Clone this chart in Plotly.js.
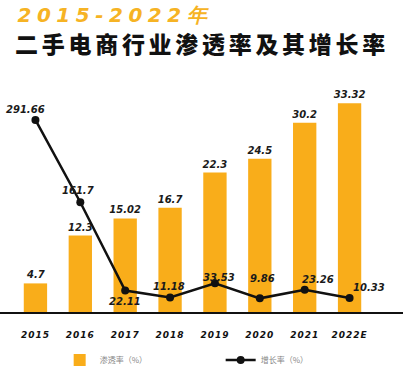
<!DOCTYPE html>
<html>
<head>
<meta charset="utf-8">
<script src="https://cdn.plot.ly/plotly-3.0.1.min.js"></script>
<style>
  html, body { margin: 0; padding: 0; background: #fff; }
  #chart { width: 403px; height: 368px; }
  .annotation[data-index="0"] text { letter-spacing: 5.5px; }
  .annotation[data-index="1"] text { letter-spacing: 3.7px; }
  .xtick text { letter-spacing: 1px; }
</style>
</head>
<body>
<div id="chart"></div>
<script>
// ---- data ----
const years = ['2015', '2016', '2017', '2018', '2019', '2020', '2021', '2022E'];
const penetration = [4.7, 12.3, 15.02, 16.7, 22.3, 24.5, 30.2, 33.32];
const growth = [291.66, 161.7, 22.11, 11.18, 33.53, 9.86, 23.26, 10.33];
const titleTop = '2015-2022年';
const titleMain = '二手电商行业渗透率及其增长率';
const seriesNames = ['渗透率（%）', '增长率（%）'];

// ---- style ----
const ORANGE = '#F9AD1A';
const W = 403, H = 368;
const M = { l: 13, r: 31, t: 80, b: 55, autoexpand: false };
const plotH = H - M.t - M.b;
const plotW = W - M.l - M.r;
const numFont = { family: 'DejaVu Sans', size: 10, color: '#1a1a1a', weight: 'bold', style: 'italic' };
// label offsets (xshift, yshift) for growth labels, in pixels
const growthShift = [[-10, 10], [-2, 12], [0, -11], [-1, 11], [4, 6], [3, 20], [13, 10], [19, 11]];

const paperY = py => (H - M.b - py) / plotH;

const bars = {
  type: 'bar', name: seriesNames[0], x: years, y: penetration,
  marker: { color: ORANGE }, width: 0.52,
  text: penetration.map(String), textposition: 'outside', cliponaxis: false,
  constraintext: 'none', textfont: numFont, hoverinfo: 'none'
};
const line = {
  type: 'scatter', mode: 'lines+markers', name: seriesNames[1], x: years, y: growth,
  yaxis: 'y2', line: { color: '#111', width: 2.5 },
  marker: { color: '#111', size: 8 }, cliponaxis: false, hoverinfo: 'none'
};

const annotations = [
  { text: titleTop, xref: 'paper', yref: 'paper', x: 0, y: paperY(15), xanchor: 'left', yanchor: 'middle',
    xshift: 30, showarrow: false,
    font: { family: 'DejaVu Sans', size: 20, color: '#F6B324', weight: 'bold', style: 'italic' } },
  { text: titleMain, xref: 'paper', yref: 'paper', x: 0, y: paperY(43), xanchor: 'left', yanchor: 'middle',
    xshift: 26, showarrow: false,
    font: { family: 'Noto Sans CJK SC', size: 23, color: '#111', weight: 900 } }
];
growth.forEach((v, i) => {
  annotations.push({
    text: String(v), x: i, y: v, xref: 'x', yref: 'y2', showarrow: false,
    xanchor: 'center', yanchor: 'middle', xshift: growthShift[i][0], yshift: growthShift[i][1],
    font: numFont
  });
});

const layout = {
  width: W, height: H, margin: M,
  paper_bgcolor: '#fff', plot_bgcolor: '#fff',
  showlegend: true,
  legend: {
    orientation: 'h', x: 0.13, xanchor: 'left', y: -0.14, yanchor: 'top',
    entrywidth: 116, entrywidthmode: 'pixels',
    font: { family: 'Noto Sans CJK SC', size: 8, color: '#888' }
  },
  xaxis: {
    type: 'category', range: [-0.5, 7.5], showgrid: false, zeroline: false, showline: false,
    ticks: 'outside', ticklen: 13, tickcolor: 'rgba(0,0,0,0)',
    tickfont: { family: 'DejaVu Sans', size: 9, color: '#111', weight: 'bold', style: 'italic' }
  },
  yaxis: { range: [0, 37], visible: false, fixedrange: true },
  yaxis2: { range: [-13.3, 354.8], overlaying: 'y', visible: false },
  bargap: 0.3,
  annotations: annotations,
  shapes: [
    { type: 'line', xref: 'paper', yref: 'paper', x0: -M.l / plotW, x1: (W - M.l) / plotW, y0: 0, y1: 0,
      line: { color: '#111', width: 2 }, layer: 'above' }
  ]
};

Plotly.newPlot('chart', [bars, line], layout, { displayModeBar: false, staticPlot: true });
</script>
</body>
</html>
